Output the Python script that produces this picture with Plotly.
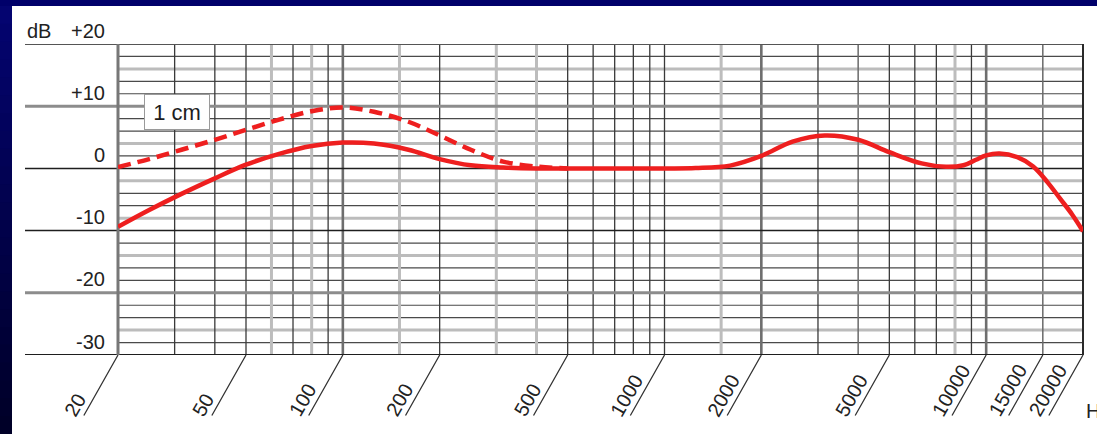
import math
import plotly.graph_objects as go

# Response of the microphone, far field (Hz, dB)
freq_far = [20, 25, 31.5, 40, 50, 63, 80, 100, 125, 160, 200, 250, 315, 400, 500, 630,
            800, 1000, 1250, 1600, 2000, 2500, 3150, 4000, 5000, 6300, 7500,
            8500, 9300, 10000, 11000, 12500, 14000, 15500, 17000, 18500, 20000]
db_far = [-9.4, -6.7, -4.1, -1.6, 0.6, 2.3, 3.6, 4.15, 4.0, 3.0, 1.5, 0.5, 0.15, 0.0, 0.0, 0.0,
          0.0, 0.0, 0.05, 0.45, 2.0, 4.3, 5.3, 4.6, 2.6, 0.8, 0.25,
          0.5, 1.4, 2.1, 2.4, 1.8, 0.3, -2.2, -4.9, -7.4, -10.1]

# Proximity response at 1 cm (Hz, dB)
freq_1cm = [20, 25, 31.5, 40, 50, 63, 80, 100, 125, 160, 200, 250, 315, 400, 500]
db_1cm = [0.2, 1.5, 3.0, 4.6, 6.2, 7.8, 9.2, 9.8, 9.1, 7.5, 5.3, 3.0, 1.1, 0.3, 0.0]

# Frequency axis labels
tick_freqs = [20, 50, 100, 200, 500, 1000, 2000, 5000, 10000, 15000, 20000]
tick_text = ["20", "50", "100", "200", "500", "1000", "2000", "5000", "10000", "15000", "20000"]

# dB axis labels
db_levels = [20, 10, 0, -10, -20, -30]
db_text = ["+20", "+10", "0", "-10", "-20", "-30"]

# Vertical grid lines grouped by stroke
grid_dark = [30, 40, 50, 70, 90, 200, 500, 600, 700, 800, 900, 1000, 3000, 5000, 6000, 7000, 9000]
grid_mid = [4000, 15000]
grid_soft = [60, 80, 150, 300, 400, 1500, 8000]
grid_heavy = [100, 2000, 10000]

# Horizontal 2 dB lines drawn in the soft stroke
soft_levels = [16, 4, -2, -8, -14, -26]

W, H = 1097, 434
L, R, T, B = 118, 14, 44, 79
PW, PH = W - L - R, H - T - B

def px_x(p):
    return (p - L) / PW

def px_y(p):
    return (H - B - p) / PH

FONT = "Liberation Sans, Arial, Helvetica, sans-serif"
RED = "#ee1f1f"
TXT = "#222222"

fig = go.Figure()

fig.add_trace(go.Scatter(
    x=freq_1cm, y=db_1cm, mode="lines", line_shape="spline",
    line=dict(color=RED, width=4.5, dash="13px,7px", smoothing=1.0), hoverinfo="skip"))
fig.add_trace(go.Scatter(
    x=freq_far, y=db_far, mode="lines", line_shape="spline",
    line=dict(color=RED, width=4.5, smoothing=1.0), hoverinfo="skip"))

shapes = []
# white sheet on the navy background
shapes.append(dict(type="rect", xref="paper", yref="paper",
                   x0=px_x(12), x1=px_x(W + 5), y0=px_y(H + 5), y1=px_y(6),
                   fillcolor="white", line_width=0, layer="below"))
# navy frame, darker towards the bottom on the left strip
nb = 24
for i in range(nb):
    t = i / (nb - 1)
    r_ = int(4 * (1 - t))
    b_ = int(112 - 72 * t)
    y_top = 6 + (H - 6) * i / nb
    y_bot = 6 + (H - 6) * (i + 1) / nb + 1
    shapes.append(dict(type="rect", xref="paper", yref="paper",
                       x0=px_x(-5), x1=px_x(12), y0=px_y(y_bot), y1=px_y(y_top),
                       fillcolor=f"rgb({r_},{r_},{b_})", line_width=0, layer="below"))

# 2 dB horizontal lines
for lv in range(-28, 20, 2):
    if lv % 10 == 0:
        continue
    if lv in soft_levels:
        ln = dict(color="#bcbcbc", width=3)
    else:
        ln = dict(color="#4a4a4a", width=1.2)
    shapes.append(dict(type="line", xref="paper", yref="y", x0=0, x1=1, y0=lv, y1=lv,
                       line=ln, layer="below"))

# vertical frequency lines
def vlines(fs, color, width):
    for f in fs:
        shapes.append(dict(type="line", xref="x", yref="paper", x0=f, x1=f, y0=0, y1=1,
                           line=dict(color=color, width=width), layer="below"))

vlines(grid_soft, "#bdbdbd", 3)
vlines(grid_dark, "#3a3a3a", 1.3)
vlines(grid_mid, "#6a6a6a", 1.5)
vlines(grid_heavy, "#6e6e6e", 2.6)

# 10 dB lines reaching into the label column
major_style = {20: ("#555555", 2), 10: ("#8c8c8c", 3), 0: ("#1e1e1e", 1.5),
               -10: ("#1e1e1e", 1.5), -20: ("#8c8c8c", 3), -30: ("#1e1e1e", 2)}
for lv in db_levels:
    c, w = major_style[lv]
    shapes.append(dict(type="line", xref="paper", yref="y", x0=px_x(25), x1=1, y0=lv, y1=lv,
                       line=dict(color=c, width=w), layer="below"))

# side borders
shapes.append(dict(type="line", xref="paper", yref="paper", x0=0, x1=0, y0=0, y1=1,
                   line=dict(color="#777777", width=3), layer="below"))
shapes.append(dict(type="line", xref="paper", yref="paper", x0=1, x1=1, y0=0, y1=1,
                   line=dict(color="#2a2a2a", width=2), layer="below"))

annotations = []
# slanted tick strokes and labels
for f, txt in zip(tick_freqs, tick_text):
    annotations.append(dict(x=math.log10(f), y=-30, xref="x", yref="y", text="",
                            showarrow=True, arrowhead=0, arrowwidth=1.3, arrowcolor="#333333",
                            ax=-35, ay=62, standoff=0, startstandoff=0))
    n = len(txt)
    cx = -48.3 + 2.67 * n
    cy = 415 - 5.0 * n
    annotations.append(dict(x=math.log10(f), y=-30, xref="x", yref="y", text=txt,
                            showarrow=False, textangle=-60, xanchor="center", yanchor="middle",
                            xshift=cx, yshift=-(cy - (H - B)),
                            font=dict(family=FONT, size=20, color=TXT)))

# dB labels
for lv, txt in zip(db_levels, db_text):
    annotations.append(dict(x=0, y=lv, xref="paper", yref="y", text=txt, showarrow=False,
                            xanchor="right", yanchor="middle", xshift=-11, yshift=13.5,
                            font=dict(family=FONT, size=20, color=TXT)))
annotations.append(dict(x=px_x(25), y=20, xref="paper", yref="y", text="dB", showarrow=False,
                        xanchor="left", yanchor="middle", yshift=13.5,
                        font=dict(family=FONT, size=20, color=TXT)))
annotations.append(dict(x=1, y=-30, xref="paper", yref="y", text="Hz", showarrow=False,
                        xanchor="left", yanchor="middle", xshift=1, yshift=-56,
                        font=dict(family=FONT, size=20, color=TXT)))

# curve tag
annotations.append(dict(x=math.log10(30.5), y=9.0, xref="x", yref="y", text="1 cm",
                        showarrow=False, xanchor="center", yanchor="middle",
                        bgcolor="white", bordercolor="#9a9a9a", borderwidth=1,
                        width=56, height=26, borderpad=4,
                        font=dict(family=FONT, size=22, color="#1e1e1e")))

fig.update_layout(
    width=W, height=H, autosize=False,
    margin=dict(l=L, r=R, t=T, b=B, pad=0),
    paper_bgcolor="#00006a", plot_bgcolor="rgba(0,0,0,0)",
    showlegend=False, shapes=shapes, annotations=annotations,
    xaxis=dict(type="log", range=[math.log10(20), math.log10(20000)], showgrid=False,
               showticklabels=False, ticks="", zeroline=False, showline=False, fixedrange=True),
    yaxis=dict(range=[-30, 20], showgrid=False, showticklabels=False, ticks="",
               zeroline=False, showline=False, fixedrange=True),
)

fig.write_html("out.html")
